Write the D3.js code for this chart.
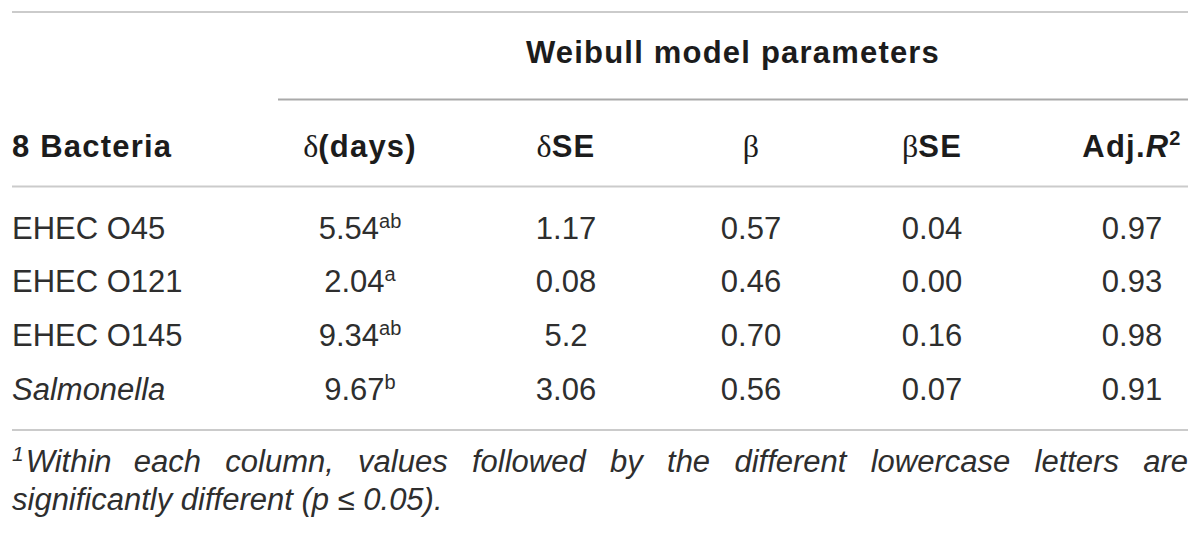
<!DOCTYPE html>
<html>
<head>
<meta charset="utf-8">
<script src="https://cdn.jsdelivr.net/npm/d3@7/dist/d3.min.js"></script>
<style>
  body { margin: 0; background: #fff; }
</style>
</head>
<body>
<script>
// table values
var bacteria = ['EHEC O45', 'EHEC O121', 'EHEC O145', 'Salmonella'];
var italicNames = ['Salmonella'];
var delta = ['5.54', '2.04', '9.34', '9.67'];
var deltaLetters = ['ab', 'a', 'ab', 'b'];
var deltaSE = ['1.17', '0.08', '5.2', '3.06'];
var beta = ['0.57', '0.46', '0.70', '0.56'];
var betaSE = ['0.04', '0.00', '0.16', '0.07'];
var adjR2 = ['0.97', '0.93', '0.98', '0.91'];

var groupTitle = 'Weibull model parameters';
var firstHeader = '8 Bacteria';
var footnoteLine1 = ['Within', 'each', 'column,', 'values', 'followed', 'by', 'the', 'different', 'lowercase', 'letters', 'are'];
var footnoteLine2 = 'significantly different (p \u2264 0.05).';

var columns = [
  { key: 'delta', head: [{ t: '\u03b4', serif: true }, { t: '(days)' }], values: delta, sup: deltaLetters },
  { key: 'deltaSE', head: [{ t: '\u03b4', serif: true }, { t: 'SE' }], values: deltaSE },
  { key: 'beta', head: [{ t: '\u03b2', serif: true }], values: beta },
  { key: 'betaSE', head: [{ t: '\u03b2', serif: true }, { t: 'SE' }], values: betaSE },
  { key: 'adjR2', head: [{ t: 'Adj.' }, { t: 'R', italic: true }, { t: '2', sup: true }], values: adjR2 }
];

var W = 1200, H = 541;
var left = 12, right = 1188;
var sans = '"Liberation Sans", Arial, Helvetica, sans-serif';
var serif = '"Liberation Serif", "Times New Roman", serif';

var svg = d3.select('body')
  .append('svg')
  .attr('width', W)
  .attr('height', H);

// column centres and row baselines
var x = d3.scaleOrdinal()
  .domain(columns.map(function(c) { return c.key; }))
  .range([360, 566, 751, 932, 1132]);

var y = d3.scalePoint()
  .domain(bacteria)
  .range([238.5, 400]);

// rules
var rules = [
  { x1: left, x2: right, y: 12, c: '#cbcbcb' },
  { x1: 278, x2: right, y: 99.5, c: '#a9a9a9' },
  { x1: left, x2: right, y: 186.5, c: '#cbcbcb' },
  { x1: left, x2: right, y: 430, c: '#cbcbcb' }
];
svg.selectAll('line.rule')
  .data(rules)
  .enter()
  .append('line')
  .attr('class', 'rule')
  .attr('x1', function(d) { return d.x1; })
  .attr('x2', function(d) { return d.x2; })
  .attr('y1', function(d) { return d.y; })
  .attr('y2', function(d) { return d.y; })
  .attr('stroke', function(d) { return d.c; })
  .attr('stroke-width', 2);

// header
svg.append('text')
  .attr('x', 733)
  .attr('y', 63)
  .attr('text-anchor', 'middle')
  .attr('font-family', sans)
  .attr('font-weight', 'bold')
  .attr('font-size', 31)
  .attr('letter-spacing', 1.2)
  .attr('fill', '#1c1c1c')
  .text(groupTitle);

svg.append('text')
  .attr('x', left)
  .attr('y', 157)
  .attr('font-family', sans)
  .attr('font-weight', 'bold')
  .attr('font-size', 31)
  .attr('letter-spacing', 1.2)
  .attr('fill', '#1c1c1c')
  .text(firstHeader);

var heads = svg.selectAll('text.head')
  .data(columns)
  .enter()
  .append('text')
  .attr('class', 'head')
  .attr('x', function(d) { return x(d.key); })
  .attr('y', 157)
  .attr('text-anchor', 'middle')
  .attr('font-family', sans)
  .attr('font-size', 31)
  .attr('fill', '#1c1c1c');

heads.each(function(d) {
  var t = d3.select(this);
  d.head.forEach(function(p) {
    var s = t.append('tspan').text(p.t);
    if (p.serif) {
      s.attr('font-family', serif).attr('font-size', 32);
    } else {
      s.attr('font-weight', 'bold').attr('letter-spacing', 1.2);
    }
    if (p.italic) s.attr('font-style', 'italic');
    if (p.sup) s.attr('font-size', 20).attr('dy', -12);
  });
});

// first column: bacteria names
svg.selectAll('text.name')
  .data(bacteria)
  .enter()
  .append('text')
  .attr('class', 'name')
  .attr('x', left)
  .attr('y', function(d) { return y(d); })
  .attr('font-family', sans)
  .attr('font-size', 31)
  .attr('font-style', function(d) { return italicNames.indexOf(d) >= 0 ? 'italic' : 'normal'; })
  .attr('fill', '#2e2e2e')
  .text(function(d) { return d; });

// value cells
columns.forEach(function(col) {
  var cells = svg.selectAll('text.cell-' + col.key)
    .data(col.values)
    .enter()
    .append('text')
    .attr('class', 'cell-' + col.key)
    .attr('x', x(col.key))
    .attr('y', function(d, i) { return y(bacteria[i]); })
    .attr('text-anchor', 'middle')
    .attr('font-family', sans)
    .attr('font-size', 31)
    .attr('fill', '#2e2e2e');

  cells.append('tspan').text(function(d) { return d; });
  if (col.sup) {
    cells.append('tspan')
      .attr('font-size', 20)
      .attr('dy', -11)
      .text(function(d, i) { return col.sup[i]; });
  }
});

// footnote, first line justified
var foot = svg.append('g')
  .attr('font-family', sans)
  .attr('font-size', 31)
  .attr('font-style', 'italic')
  .attr('fill', '#2e2e2e');

var words = foot.selectAll('text.word')
  .data(footnoteLine1)
  .enter()
  .append('text')
  .attr('class', 'word')
  .attr('y', 472);

words.each(function(d, i) {
  var t = d3.select(this);
  if (i === 0) {
    t.append('tspan').attr('font-size', 21).attr('dy', -11).text('1');
    t.append('tspan').attr('dy', 11).attr('dx', 2).text(d);
  } else {
    t.text(d);
  }
});

var widths = [];
words.each(function() { widths.push(this.getComputedTextLength()); });
var gap = (right - left - d3.sum(widths)) / (widths.length - 1);
var pos = left;
words.attr('x', function(d, i) {
  var p = pos;
  pos += widths[i] + gap;
  return p;
});

foot.append('text')
  .attr('x', left)
  .attr('y', 510)
  .text(footnoteLine2);
</script>
</body>
</html>
